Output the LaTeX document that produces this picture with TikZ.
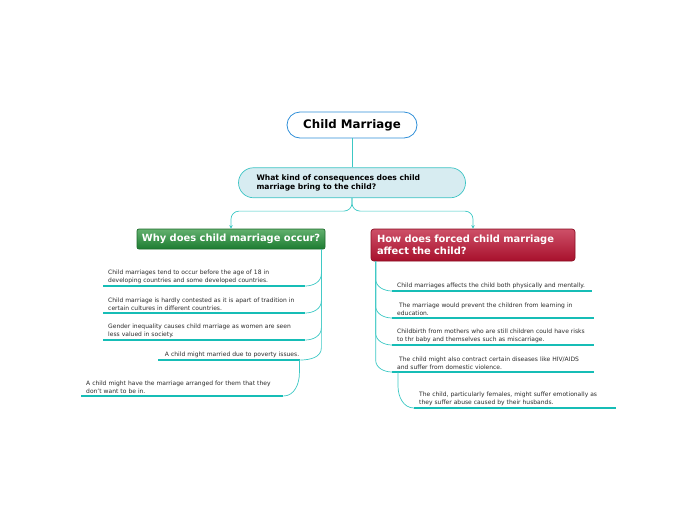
\documentclass[tikz,border=0pt]{standalone}
\usepackage{fontspec}
\setmainfont{DejaVu Sans}
\usepackage{xcolor}
\definecolor{mmteal}{HTML}{3CC8C4}
\definecolor{mmline}{HTML}{16BDB6}
\definecolor{rootblue}{HTML}{2F8FD8}
\definecolor{qfill}{HTML}{D7ECF1}
\definecolor{qborder}{HTML}{3CC4C4}
\definecolor{whytop}{HTML}{62B06E}
\definecolor{whybot}{HTML}{1C7C31}
\definecolor{whyedge}{HTML}{1E6B2C}
\definecolor{howtop}{HTML}{CD5068}
\definecolor{howbot}{HTML}{A8102C}
\definecolor{howedge}{HTML}{8A0D22}
\definecolor{leaftext}{HTML}{2A2A2A}
\usetikzlibrary{positioning,arrows.meta,calc}

\begin{document}
\begin{tikzpicture}[
  x=1pt, y=-1pt,
  >={Stealth[length=3.5pt,width=3.5pt]},
  conn/.style={draw=mmteal, line width=0.7pt},
  uline/.style={draw=mmline, line width=1.3pt},
  rootbox/.style={
    rectangle, rounded corners=13pt, draw=rootblue, line width=0.8pt, fill=white,
    minimum width=130pt, minimum height=26pt,
    font=\bfseries\fontsize{11.8}{13}\selectfont
  },
  qbox/.style={
    rectangle, rounded corners=15pt, draw=qborder, line width=0.7pt, fill=qfill,
    minimum width=227pt, minimum height=30pt, text width=191pt, inner xsep=18pt,
    align=left, font=\bfseries\fontsize{7.6}{9}\selectfont
  },
  whybox/.style={
    rectangle, rounded corners=2pt, draw=whyedge, line width=0.7pt,
    top color=whytop, bottom color=whybot, text=white,
    minimum width=188pt, minimum height=20pt,
    font=\bfseries\fontsize{9.9}{11}\selectfont
  },
  howbox/.style={
    rectangle, rounded corners=3pt, draw=howedge, line width=0.7pt,
    top color=howtop, bottom color=howbot, text=white,
    minimum width=204pt, minimum height=32pt, text width=192pt, inner xsep=6pt,
    align=left, font=\bfseries\fontsize{9.9}{12}\selectfont
  },
  leaf/.style={
    anchor=south west, text width=192pt, inner xsep=5pt, inner ysep=2.5pt,
    align=left, text=leaftext, font=\fontsize{6}{8}\selectfont
  }
]
\useasboundingbox (0,0) rectangle (697,520);

\node[rootbox] (cm) at (352,125) {Child Marriage};
\node[qbox, below=29pt of cm] (q) {What kind of consequences does child\\marriage bring to the child?};
\node[whybox] (why) at (231,239) {Why does child marriage occur?};
\node[howbox] (how) at (473,245) {How does forced child marriage\\affect the child?};

\node[leaf] (l1) at (103,286) {Child marriages tend to occur before the age of 18 in\\developing countries and some developed countries.};
\node[leaf] (l2) at (103,313) {Child marriage is hardly contested as it is apart of tradition in\\certain cultures in different countries.};
\node[leaf] (l3) at (103,340) {Gender inequality causes child marriage as women are seen\\less valued in society.};
\node[leaf, text width=140pt, inner xsep=1pt, align=right] (l4) at (158,360) {A child might married due to poverty issues.\hspace{4pt}};
\node[leaf] (l5) at (81,396) {A child might have the marriage arranged for them that they\\don't want to be in.};

\node[leaf, text width=190pt] (r1) at (392,291) {Child marriages affects the child both physically and mentally.};
\node[leaf] (r2) at (392,318) {\hspace{2pt}The marriage would prevent the children from learning in\\education.};
\node[leaf] (r3) at (392,345) {Childbirth from mothers who are still children could have risks\\to thr baby and themselves such as miscarriage.};
\node[leaf] (r4) at (392,372) {\hspace{2pt}The child might also contract certain diseases like HIV/AIDS\\and suffer from domestic violence.};
\node[leaf] (r5) at (414,408) {The child, particularly females, might suffer emotionally as\\they suffer abuse caused by their husbands.};

\foreach \n in {l1,l2,l3,l4,l5,r1,r2,r3,r4,r5}
  \draw[uline] (\n.south west) -- (\n.south east);

\coordinate (wt) at ([xshift=-4pt]why.south east);
\coordinate (ht) at ([xshift=5pt]how.south west);

\draw[conn] (cm.south) -- (q.north);
\draw[conn, ->, rounded corners=8pt] (q.south) -- ++(0,13) -| (why.north);
\draw[conn, ->, rounded corners=8pt] (q.south) -- ++(0,13) -| (how.north);

\foreach \n in {l1,l2,l3,l4}
  \draw[conn] (wt) -- ([yshift=12pt]wt |- \n.south east) to[out=-90,in=0] (\n.south east);
\foreach \n in {r1,r2,r3,r4}
  \draw[conn] (ht) -- ([yshift=12pt]ht |- \n.south west) to[out=-90,in=180] (\n.south west);

\draw[conn] ([xshift=-1pt]l4.south east) -- ++(0,13) to[out=-90,in=0] (l5.south east);
\draw[conn] ([xshift=6pt]r4.south west) -- ++(0,14) to[out=-90,in=180] (r5.south west);

\end{tikzpicture}
\end{document}
